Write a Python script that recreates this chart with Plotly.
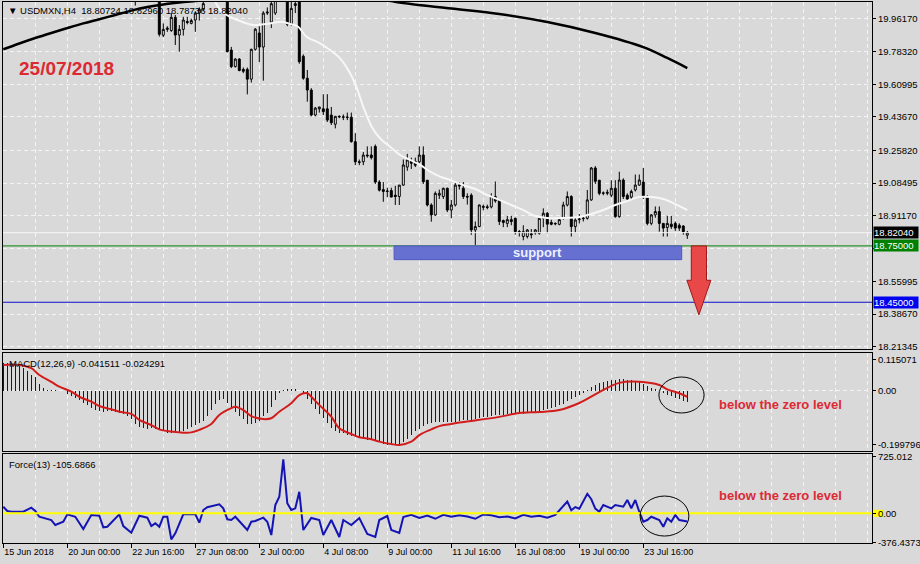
import plotly.graph_objects as go
from plotly.subplots import make_subplots

FONT = "Liberation Sans"

symbol_title = "\u25BC USDMXN,H4  18.80724 18.82960 18.78736 18.82040"
chart_date = "25/07/2018"
macd_title = "MACD(12,26,9) -0.041511 -0.024291"
force_title = "Force(13) -105.6866"
note_text = "below the zero level"
support_text = "support"

open_ = [20.52,20.55,20.60,20.58,20.61,20.67,20.63,20.57,20.62,20.54,
         20.48,20.45,20.41,20.44,20.35,20.39,20.42,20.36,20.38,20.30,
         20.33,20.23,20.29,20.31,20.25,20.30,20.20,20.22,20.27,20.29,
         20.22,20.15,20.19,20.10,20.12,20.17,20.12,20.15,20.10,20.14,
         19.872,19.903,19.897,19.967,19.873,19.903,19.945,19.935,19.953,19.99,
         20.01,20.08,20.13,20.16,20.14,20.18,20.12,19.793,19.705,19.745,
         19.69,19.69,19.638,19.797,19.884,19.809,19.99,19.942,19.99,20.07,
         20.15,20.20,19.93,20.03,20.09,19.76,19.643,19.58,19.447,19.48,
         19.48,19.48,19.447,19.398,19.44,19.435,19.436,19.435,19.305,19.198,
         19.198,19.234,19.234,19.28,19.09,19.05,19.04,19.045,19.02,19.013,
         19.074,19.17,19.20,19.20,19.198,19.234,19.10,18.968,18.915,19.02,
         19.013,19.057,18.941,18.968,19.074,19.057,19.013,19.02,18.835,18.853,
         18.955,18.958,18.958,19.013,18.995,18.885,18.87,18.89,18.897,18.826,
         18.80,18.80,18.815,18.82,18.817,18.897,18.924,18.875,18.87,18.865,
         18.897,18.968,19.013,18.853,18.89,18.895,18.897,18.995,19.165,19.10,
         19.03,19.03,19.02,19.057,18.906,19.101,19.02,19.01,19.048,19.074,
         19.09,19.013,18.87,18.915,18.933,18.87,18.848,18.866,18.87,18.86,
         18.856,18.80724]
high = [20.58,20.62,20.66,20.63,20.70,20.72,20.68,20.64,20.66,20.58,
        20.53,20.50,20.47,20.46,20.42,20.45,20.44,20.41,20.40,20.36,
        20.35,20.31,20.33,20.34,20.32,20.31,20.26,20.30,20.32,20.31,
        20.25,20.22,20.21,20.16,20.20,20.19,20.18,20.17,20.16,20.16,
        19.935,19.92,19.99,19.98,19.926,19.97,19.97,19.96,20.0,20.02,
        20.06,20.15,20.19,20.22,20.20,20.21,20.14,19.81,19.75,19.75,
        19.70,19.70,19.80,19.91,19.92,20.0,20.02,20.08,20.10,20.18,
        20.26,20.22,20.07,20.07,20.10,19.77,19.687,19.59,19.49,19.49,
        19.558,19.558,19.49,19.44,19.445,19.45,19.46,19.46,19.35,19.21,
        19.25,19.28,19.28,19.29,19.10,19.09,19.06,19.06,19.07,19.074,
        19.21,19.24,19.22,19.22,19.28,19.28,19.10,18.977,19.04,19.05,
        19.06,19.06,18.995,19.09,19.09,19.09,19.03,19.03,18.88,18.97,
        18.97,18.97,19.03,19.093,19.0,18.89,18.91,18.91,18.90,18.835,
        18.86,18.84,18.84,18.84,18.90,18.95,18.93,18.89,18.875,18.90,
        18.985,19.04,19.02,18.90,18.92,18.91,19.048,19.17,19.175,19.10,
        19.04,19.05,19.10,19.10,19.145,19.11,19.03,19.05,19.13,19.13,
        19.165,19.02,18.92,18.96,18.96,18.87,18.91,18.91,18.88,18.87,
        18.86,18.8296]
low = [20.46,20.50,20.55,20.52,20.58,20.60,20.55,20.53,20.51,20.45,
       20.42,20.38,20.36,20.32,20.31,20.36,20.33,20.30,20.27,20.26,
       20.20,20.21,20.25,20.22,20.23,20.18,20.16,20.19,20.23,20.20,
       20.12,20.12,20.08,20.03,20.10,20.09,20.10,20.08,20.07,19.865,
       19.862,19.89,19.89,19.82,19.784,19.87,19.93,19.93,19.89,19.95,
       20.0,20.07,20.10,20.12,20.11,20.08,19.78,19.697,19.70,19.68,
       19.67,19.557,19.62,19.79,19.729,19.63,19.98,19.91,19.98,20.06,
       20.10,19.92,19.92,19.99,19.72,19.635,19.518,19.44,19.44,19.46,
       19.447,19.41,19.394,19.376,19.43,19.42,19.42,19.30,19.18,19.18,
       19.18,19.22,19.21,19.08,19.04,18.985,19.01,19.01,18.968,18.968,
       19.07,19.15,19.16,19.17,19.19,19.08,18.96,18.879,18.91,19.00,
       19.0,18.93,18.898,18.96,19.05,19.0,18.97,18.809,18.755,18.85,
       18.94,18.945,18.95,18.98,18.861,18.85,18.85,18.86,18.81,18.80,
       18.78,18.79,18.79,18.81,18.81,18.85,18.817,18.86,18.86,18.86,
       18.89,18.96,18.80,18.82,18.87,18.88,18.89,18.99,19.08,19.02,
       19.02,19.02,19.01,18.90,18.90,19.0,18.99,19.0,19.04,19.07,
       19.0,18.86,18.86,18.90,18.826,18.80,18.80,18.84,18.83,18.83,
       18.81,18.78736]
close = [20.55,20.60,20.58,20.61,20.67,20.63,20.57,20.62,20.54,20.48,
         20.45,20.41,20.44,20.35,20.39,20.42,20.36,20.38,20.30,20.33,
         20.23,20.29,20.31,20.25,20.30,20.20,20.22,20.27,20.29,20.22,
         20.15,20.19,20.10,20.12,20.17,20.12,20.15,20.10,20.14,19.877,
         19.903,19.91,19.967,19.873,19.903,19.953,19.94,19.95,19.99,20.01,
         20.04,20.13,20.16,20.14,20.18,20.12,19.785,19.705,19.745,19.684,
         19.68,19.638,19.797,19.904,19.809,19.99,19.995,20.04,20.07,20.15,
         20.20,19.93,20.015,20.04,19.731,19.643,19.58,19.447,19.484,19.49,
         19.465,19.42,19.406,19.44,19.438,19.437,19.435,19.305,19.198,19.195,
         19.234,19.23,19.22,19.09,19.047,19.04,19.042,19.01,19.013,19.074,
         19.181,19.208,19.19,19.18,19.234,19.092,18.968,18.915,19.03,19.03,
         19.057,18.941,18.968,19.074,19.07,19.013,19.01,18.835,18.853,18.968,
         18.96,18.955,19.013,18.99,18.88,18.875,18.89,18.88,18.826,18.824,
         18.826,18.835,18.81,18.835,18.897,18.924,18.866,18.865,18.868,18.89,
         18.968,19.013,18.853,18.888,18.893,18.897,18.995,19.165,19.094,19.03,
         19.032,19.035,19.057,18.906,19.101,19.013,19.00,19.04,19.074,19.101,
         19.013,18.87,18.915,18.933,18.87,18.845,18.87,18.853,18.845,18.845,
         18.826,18.8204]
bars = list(range(len(close)))

# moving averages (bar index, price)
ma_slow_bar = [0,4,8,12,16,20,24,28,32,36,40,44,48,52,60,70,80,90,97,100,112,124,136,148,160,166,171]
ma_slow_val = [19.797,19.828,19.857,19.884,19.910,19.935,19.957,19.980,20.003,20.022,20.036,20.046,
               20.054,20.062,20.078,20.092,20.095,20.082,20.054,20.043,20.014,19.985,19.942,19.884,
               19.809,19.751,19.697]
ma_fast_bar = [52.5,54.5,56.7,59.5,62.5,66.7,69.6,71.7,73.7,75.8,79.2,81.7,84.2,86.7,88.4,90,92.1,94.2,
               96.7,99.2,101.7,104.2,106.7,109.2,111.7,115,118,121,124,127,130,133,136,140,144,147,150,
               153,156,159,162,165,168,171]
ma_fast_val = [20.07,20.0,19.970,19.945,19.926,19.935,19.944,19.932,19.917,19.864,19.829,19.793,19.749,
               19.669,19.589,19.491,19.385,19.323,19.278,19.234,19.208,19.181,19.145,19.119,19.101,
               19.074,19.053,19.021,18.995,18.968,18.941,18.909,18.899,18.899,18.904,18.92,18.941,
               18.968,18.989,19.01,19.01,19.0,18.973,18.941]

# MACD main (histogram) per bar and signal line points
macd_main = [0.100,0.101,0.100,0.098,0.092,0.082,0.070,0.058,0.048,0.025,
             0.010,0.003,0.002,0.001,0.000,-0.003,-0.012,-0.020,-0.027,-0.035,
             -0.045,-0.055,-0.063,-0.070,-0.075,-0.078,-0.076,-0.077,-0.079,-0.081,
             -0.085,-0.095,-0.105,-0.122,-0.133,-0.139,-0.140,-0.139,-0.142,-0.146,
             -0.150,-0.156,-0.158,-0.157,-0.154,-0.150,-0.143,-0.136,-0.128,-0.120,
             -0.112,-0.095,-0.070,-0.050,-0.035,-0.030,-0.045,-0.062,-0.078,-0.092,
             -0.106,-0.122,-0.125,-0.118,-0.112,-0.095,-0.082,-0.060,-0.035,-0.010,
             0.002,0.004,0.005,0.004,-0.002,-0.012,-0.030,-0.050,-0.068,-0.085,
             -0.100,-0.120,-0.138,-0.150,-0.155,-0.158,-0.163,-0.168,-0.172,-0.176,
             -0.180,-0.182,-0.183,-0.186,-0.190,-0.195,-0.200,-0.201,-0.200,-0.197,
             -0.190,-0.178,-0.163,-0.150,-0.140,-0.132,-0.124,-0.118,-0.115,-0.114,
             -0.114,-0.117,-0.116,-0.114,-0.112,-0.110,-0.108,-0.107,-0.104,-0.100,
             -0.098,-0.096,-0.093,-0.091,-0.090,-0.089,-0.088,-0.087,-0.087,-0.086,
             -0.085,-0.083,-0.081,-0.078,-0.075,-0.071,-0.068,-0.064,-0.060,-0.055,
             -0.048,-0.040,-0.032,-0.024,-0.016,-0.008,0.002,0.012,0.020,0.026,
             0.031,0.035,0.038,0.040,0.042,0.042,0.040,0.038,0.035,0.030,
             0.024,0.017,0.010,0.004,-0.003,-0.010,-0.016,-0.022,-0.027,-0.032,
             -0.037,-0.0415]
signal_bar = [0,4,7,9,12,14,17,19,22,24,27,29,32,34,37,39,42,44,47,49,52,54,57,58,60,62,65,67,69,72,
              74,76,77,79,82,84,87,89,92,94,97,99,102,104,107,109,112,114,117,124,129,134,139,144,149,
              154,159,164,166,169,171]
signal_val = [0.094,0.094,0.082,0.057,0.032,0.014,-0.004,-0.023,-0.041,-0.057,-0.069,-0.078,-0.086,
              -0.108,-0.127,-0.143,-0.151,-0.154,-0.154,-0.145,-0.123,-0.090,-0.065,-0.060,-0.072,
              -0.094,-0.105,-0.102,-0.078,-0.047,-0.017,-0.010,-0.023,-0.053,-0.096,-0.139,-0.160,
              -0.172,-0.179,-0.188,-0.197,-0.200,-0.188,-0.164,-0.143,-0.131,-0.123,-0.118,-0.112,
              -0.097,-0.083,-0.079,-0.072,-0.046,-0.006,0.028,0.032,0.020,0.004,-0.010,-0.023]

# Force index points (bar index, value)
force_bar = [0,1,2,5,7,8,9,10,12,13,15,16,18,20,22,24,25,26,29,30,32,34,36,37,38,39,40,41,42,43,45,48,49,
             50,51,54,55,56,57,58,61,62,63,65,66,67,68,69,70,71,72,73,74,75,77,79,
             80,82,84,85,87,89,91,93,94,96,97,99,100,102,104,106,108,110,112,114,116,
             118,120,122,124,126,128,130,132,134,136,138,139,140,141,142,143,144,145,146,147,148,
             149,150,152,153,155,156,157,158,159,160,161,162,164,165,166,167,168,169,171]
force_val = [84,29,20,20,72,29,-44,-56,-86,-150,-108,-13,-44,-201,-22,-31,-179,-172,-13,-163,-248,-31,-56,
             -163,-128,-172,-44,-44,-333,-256,-13,-13,-120,42,77,115,64,-77,-86,-44,-214,-108,-99,-56,
             -108,-278,106,212,691,128,42,64,276,-214,-60,-86,
             -278,-86,-303,-86,-150,-60,-265,-303,-86,-35,-214,-252,-47,-20,-60,-30,-70,-20,-45,-25,
             -40,-70,-15,-25,-50,-40,-65,-20,-45,-30,-55,-20,40,90,150,40,80,60,150,250,180,60,
             20,106,64,106,84,170,64,170,20,-108,-86,-44,-86,-172,-64,-108,-22,-86,-105.7]

# levels and annotations
bid_price = 18.82040
support_level = 18.75
target_level = 18.45
force_level = 0.0
support_zone = dict(bar_from=97.7, bar_to=169.6, top=18.75, bottom=18.677)
arrow = dict(bar=173.9, top=18.75, neck=18.567, tip=18.383, shaft_half=1.9, head_half=3.0)
macd_ellipse = dict(bar_from=163.9, bar_to=175.2, top=0.0496, bottom=-0.0827)
force_ellipse = dict(bar_from=159.2, bar_to=171.4, top=221, bottom=-291)

date_labels = ["15 Jun 2018", "20 Jun 00:00", "22 Jun 16:00", "27 Jun 08:00", "2 Jul 00:00",
               "4 Jul 08:00", "9 Jul 00:00", "11 Jul 16:00", "16 Jul 08:00", "19 Jul 00:00",
               "23 Jul 16:00"]
price_ticks = [19.96170, 19.78320, 19.60995, 19.43670, 19.25820, 19.08495, 18.91170,
               18.73845, 18.55995, 18.38670, 18.21345]
macd_ticks = [0.115071, 0.0, -0.199796]
macd_ticktext = ["0.115071", "0.00", "-0.199796"]
force_ticks = [725.012, 0.0, -376.4373]
force_ticktext = ["725.012", "0.00", "-376.4373"]

BARS_PER_LABEL = 16
BARS_PER_GRID = 8
LAST_GRID_BAR = 216

BG = "#d9d9d9"
GRID = "#f4f4f4"
DASH = "4px,3px"

fig = make_subplots(rows=3, cols=1, shared_xaxes=True, vertical_spacing=0)

fig.add_trace(go.Candlestick(
    x=bars, open=open_, high=high, low=low, close=close,
    increasing=dict(line=dict(color="black", width=1), fillcolor="white"),
    decreasing=dict(line=dict(color="black", width=1), fillcolor="black"),
    whiskerwidth=0, hoverinfo="skip", showlegend=False), row=1, col=1)
fig.add_trace(go.Scatter(x=ma_slow_bar, y=ma_slow_val, mode="lines",
                         line=dict(color="black", width=2.5, shape="spline"),
                         hoverinfo="skip", showlegend=False), row=1, col=1)
fig.add_trace(go.Scatter(x=ma_fast_bar, y=ma_fast_val, mode="lines",
                         line=dict(color="#f7f7f7", width=2, shape="spline"),
                         hoverinfo="skip", showlegend=False), row=1, col=1)

fig.add_trace(go.Bar(x=bars, y=macd_main, width=0.25, marker=dict(color="#1a1a1a", line=dict(width=0)),
                     hoverinfo="skip", showlegend=False), row=2, col=1)
fig.add_trace(go.Scatter(x=signal_bar, y=signal_val, mode="lines",
                         line=dict(color="#d21c1c", width=2, shape="spline"),
                         hoverinfo="skip", showlegend=False), row=2, col=1)

fig.add_trace(go.Scatter(x=force_bar, y=force_val, mode="lines",
                         line=dict(color="#1414b4", width=2),
                         hoverinfo="skip", showlegend=False), row=3, col=1)

label_vals = [i * BARS_PER_LABEL for i in range(len(date_labels))]
minor_vals = [v for v in range(0, LAST_GRID_BAR + 1, BARS_PER_GRID) if v not in label_vals]
x_range = [-0.075, 217.175]

common_x = dict(range=x_range, showline=True, mirror=True, linecolor="black", linewidth=1,
                showgrid=True, gridcolor=GRID, griddash=DASH, gridwidth=1, zeroline=False,
                tickmode="array", tickvals=label_vals, ticktext=date_labels,
                minor=dict(tickmode="array", tickvals=minor_vals, showgrid=True, gridcolor=GRID,
                           griddash=DASH, gridwidth=1, ticks=""),
                rangeslider=dict(visible=False), fixedrange=True, automargin=False)
fig.update_xaxes(**common_x)
fig.update_xaxes(showticklabels=False, ticks="", row=1, col=1)
fig.update_xaxes(showticklabels=False, ticks="", row=2, col=1)
fig.update_xaxes(showticklabels=True, ticks="outside", ticklen=4, tickcolor="black",
                 ticklabelposition="outside right",
                 tickfont=dict(family=FONT, size=9, color="black"), row=3, col=1)

common_y = dict(side="right", showline=True, mirror=True, linecolor="black", linewidth=1,
                zeroline=False, ticks="outside", ticklen=3, tickcolor="black",
                tickfont=dict(family=FONT, size=9.5, color="black"), tickmode="array",
                fixedrange=True, automargin=False)
fig.update_yaxes(**common_y)
fig.update_yaxes(domain=[0.3577, 1.0], range=[18.1985, 20.0489], tickvals=price_ticks,
                 ticktext=[f"{v:.5f}" for v in price_ticks], showgrid=True, gridcolor=GRID,
                 griddash=DASH, gridwidth=1, row=1, col=1)
fig.update_yaxes(domain=[0.1701, 0.3521], range=[-0.2224, 0.1397], tickvals=macd_ticks,
                 ticktext=macd_ticktext, showgrid=False, row=2, col=1)
fig.update_yaxes(domain=[0.0, 0.1645], range=[-380, 759], tickvals=force_ticks,
                 ticktext=force_ticktext, showgrid=False, row=3, col=1)

shapes = []
shapes.append(dict(type="line", xref="x2 domain", yref="y2", x0=0, x1=1, y0=0, y1=0,
                   line=dict(color=GRID, width=1, dash="4px,3px"), layer="below"))
shapes.append(dict(type="line", xref="x3 domain", yref="y3", x0=0, x1=1, y0=force_level,
                   y1=force_level, line=dict(color="#ffff00", width=2)))
# small yellow level marker on the force price scale
shapes.append(dict(type="rect", xref="x3 domain", yref="y3", x0=1.0012, x1=1.0127,
                   y0=force_level - 45, y1=force_level + 45, fillcolor="#ffff00",
                   line=dict(width=0), layer="below"))
shapes.append(dict(type="line", xref="x domain", yref="y", x0=0, x1=1, y0=bid_price, y1=bid_price,
                   line=dict(color="#f8f8f8", width=1)))
shapes.append(dict(type="line", xref="x domain", yref="y", x0=0, x1=1, y0=support_level,
                   y1=support_level, line=dict(color="#008000", width=1)))
shapes.append(dict(type="line", xref="x domain", yref="y", x0=0, x1=1, y0=target_level,
                   y1=target_level, line=dict(color="#1010d0", width=1)))
shapes.append(dict(type="rect", xref="x", yref="y", x0=support_zone["bar_from"],
                   x1=support_zone["bar_to"], y0=support_zone["bottom"], y1=support_zone["top"],
                   fillcolor="#6670d0", line=dict(color="#5058c0", width=1)))
a = arrow
path = (f"M {a['bar']-a['shaft_half']},{a['top']} L {a['bar']+a['shaft_half']},{a['top']} "
        f"L {a['bar']+a['shaft_half']},{a['neck']} L {a['bar']+a['head_half']},{a['neck']} "
        f"L {a['bar']},{a['tip']} L {a['bar']-a['head_half']},{a['neck']} "
        f"L {a['bar']-a['shaft_half']},{a['neck']} Z")
shapes.append(dict(type="path", xref="x", yref="y", path=path, fillcolor="#e84848",
                   line=dict(color="#a01818", width=1)))
shapes.append(dict(type="circle", xref="x2", yref="y2", x0=macd_ellipse["bar_from"],
                   x1=macd_ellipse["bar_to"], y0=macd_ellipse["bottom"], y1=macd_ellipse["top"],
                   line=dict(color="black", width=1)))
shapes.append(dict(type="circle", xref="x3", yref="y3", x0=force_ellipse["bar_from"],
                   x1=force_ellipse["bar_to"], y0=force_ellipse["bottom"], y1=force_ellipse["top"],
                   line=dict(color="black", width=1)))

annotations = []
annotations.append(dict(text=symbol_title, xref="paper", yref="paper", x=0.0035, y=0.985,
                        xanchor="left", yanchor="middle", showarrow=False,
                        font=dict(family=FONT, size=9.5, color="black")))
annotations.append(dict(text=chart_date, xref="paper", yref="paper", x=0.0161, y=0.878,
                        xanchor="left", yanchor="middle", showarrow=False,
                        font=dict(family=FONT, size=19, color="#dc2832", weight="bold")))
annotations.append(dict(text=macd_title, xref="paper", yref="paper", x=0.0046, y=0.3327,
                        xanchor="left", yanchor="middle", showarrow=False,
                        font=dict(family=FONT, size=9.5, color="black")))
annotations.append(dict(text=force_title, xref="paper", yref="paper", x=0.0046, y=0.146,
                        xanchor="left", yanchor="middle", showarrow=False,
                        font=dict(family=FONT, size=9.5, color="black")))
for ny in (0.2551, 0.0887):
    annotations.append(dict(text=note_text, xref="paper", yref="paper", x=0.8947, y=ny,
                            xanchor="center", yanchor="middle", showarrow=False,
                            font=dict(family=FONT, size=13, color="#dc2a35", weight="bold")))
annotations.append(dict(text=support_text, xref="x", yref="y",
                        x=(support_zone["bar_from"] + support_zone["bar_to"]) / 2,
                        y=(support_zone["top"] + support_zone["bottom"]) / 2,
                        xanchor="center", yanchor="middle", showarrow=False,
                        font=dict(family=FONT, size=13, color="#eef0ff", weight="bold")))
for val, bg in [(bid_price, "black"), (support_level, "#008000"), (target_level, "#0000f0")]:
    annotations.append(dict(text=f"{val:.5f}", xref="paper", yref="y", x=1, y=val,
                            xanchor="left", yanchor="middle", xshift=1, showarrow=False,
                            bgcolor=bg, width=44, align="left", borderpad=0,
                            font=dict(family=FONT, size=9.5, color="white")))

fig.update_layout(width=920, height=564, margin=dict(l=3, r=48, t=2, b=21, autoexpand=False),
                  paper_bgcolor=BG, plot_bgcolor=BG, shapes=shapes, annotations=annotations,
                  showlegend=False, bargap=0, hovermode=False,
                  font=dict(family=FONT, size=9.5, color="black"))

fig.write_html("out.html", config={"displayModeBar": False, "staticPlot": True},
               post_script="document.body.style.margin='0';document.body.style.overflow='hidden';")
